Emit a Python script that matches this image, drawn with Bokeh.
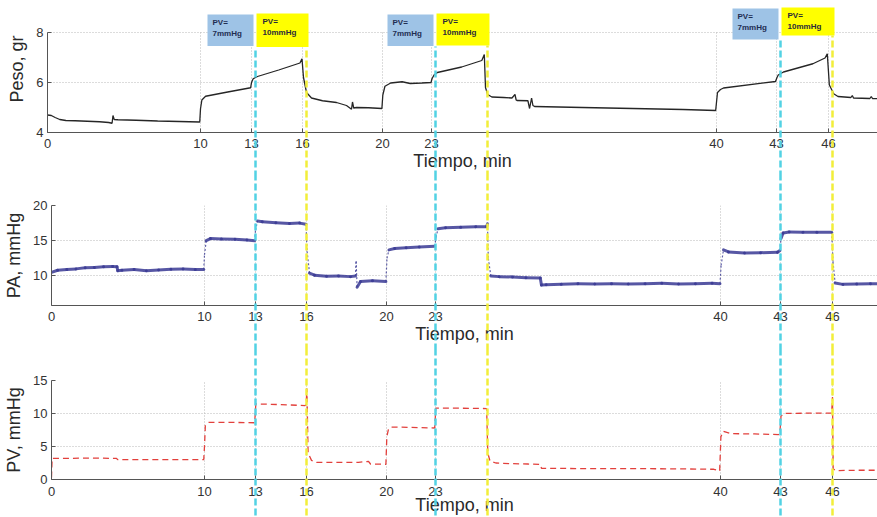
import numpy as np
from bokeh.plotting import figure
from bokeh.layouts import column
from bokeh.models import Range1d, FixedTicker, Grid
from bokeh.embed import file_html
from bokeh.resources import INLINE
from bokeh.core.properties import value

# ------------------------------------------------------------------ data
TICK_MIN = [0, 10, 13, 16, 20, 23, 40, 43, 46]
TICK_LABELS = ["0", "10", "13", "16", "20", "23", "40", "43", "46"]

PV7_START = [10, 20, 40]          # start of PV = 7 mmHg
PV10_START = [13, 23, 43]         # start of PV = 10 mmHg (cyan lines)
PV10_END = [16, 26.1, 46]         # end of PV = 10 mmHg (yellow lines)
BOX_TEXT_7 = "PV=\n7mmHg"
BOX_TEXT_10 = "PV=\n10mmHg"

PESO_T = [0, 0.25, 0.5, 0.8, 1.2, 1.8, 2.6, 3.4, 4.0, 4.22, 4.28, 4.36, 4.6, 5.8, 7.2, 8.6, 9.95,
          10.0, 10.08, 10.3, 11.6, 12.95,
          13.0, 13.1, 13.35, 14.6, 15.85, 15.97,
          16.05, 16.2, 16.45, 17.0, 17.7, 18.2, 18.45, 18.5, 18.56, 18.7, 19.3, 19.97,
          20.02, 20.15, 20.5, 21.2, 21.7, 22.4, 22.97,
          23.03, 23.15, 23.35, 24.8, 26.0, 26.15,
          26.22, 26.35, 26.6, 27.3, 27.8, 27.98, 28.05, 28.1, 28.75, 28.85, 28.97, 29.05, 29.15,
          32.0, 35.0, 38.0, 39.95,
          40.05, 40.2, 40.35, 42.95,
          43.03, 43.1, 43.4, 45.1, 45.8, 45.93,
          46.05, 46.3, 46.55, 47.3, 47.38, 47.45, 48.4, 48.48, 48.55, 49.0]
PESO_V = [4.7, 4.68, 4.6, 4.52, 4.48, 4.47, 4.45, 4.43, 4.4, 4.37, 4.68, 4.52, 4.51, 4.49, 4.46, 4.44, 4.42,
          4.95, 5.3, 5.45, 5.62, 5.79,
          6.0, 6.15, 6.24, 6.5, 6.78, 6.95,
          6.2, 5.6, 5.38, 5.27, 5.2, 5.08, 4.93, 5.22, 4.98, 5.0, 4.99, 4.96,
          5.5, 5.85, 5.98, 6.03, 5.96, 5.98, 6.0,
          6.15, 6.3, 6.4, 6.62, 6.88, 7.12,
          5.8, 5.52, 5.42, 5.4, 5.38, 5.52, 5.3, 5.28, 5.27, 4.96, 5.38, 5.08, 5.04,
          5.0, 4.96, 4.92, 4.88,
          5.6, 5.72, 5.78, 6.04,
          6.2, 6.3, 6.42, 6.75, 6.98, 7.15,
          5.9, 5.55, 5.44, 5.4, 5.48, 5.38, 5.36, 5.44, 5.36, 5.35]

PA_T = [0, 0.4, 1.0, 1.6, 2.2, 2.8, 3.4, 4.0, 4.28, 4.33, 4.6, 5.4, 6.2, 7.0, 7.8, 8.6, 9.4, 9.95,
        10.0, 10.1, 10.35, 11.0, 11.8, 12.5, 12.95,
        13.0, 13.12, 13.4, 14.2, 15.0, 15.6, 15.97,
        16.03, 16.15, 16.4, 17.0, 17.6, 18.2, 18.45, 18.48, 18.53, 18.7, 19.3, 19.97,
        20.03, 20.15, 20.5, 21.2, 22.0, 22.95,
        23.03, 23.15, 23.6, 24.5, 25.4, 26.05, 26.1,
        26.15, 26.3, 26.8, 27.6, 28.4, 29.25,
        29.32, 29.6, 30.5, 31.5, 32.5, 33.5, 34.5, 35.5, 36.5, 37.5, 38.5, 39.5, 39.97,
        40.03, 40.15, 40.4, 41.2, 42.0, 42.85, 42.97,
        43.03, 43.15, 43.5, 44.3, 45.1, 45.95,
        46.03, 46.15, 46.6, 47.4, 48.2, 49.0]
PA_V = [10.5, 10.8, 10.9, 11.0, 11.15, 11.2, 11.3, 11.35, 11.3, 10.75, 10.8, 10.9, 10.75, 10.85, 10.95, 11.0, 10.9, 10.9,
        13.0, 15.0, 15.3, 15.25, 15.2, 15.1, 15.0,
        16.5, 17.8, 17.7, 17.55, 17.45, 17.5, 17.35,
        13.5, 10.4, 10.1, 9.95, 10.0, 9.9, 10.0, 12.1, 8.4, 9.2, 9.3, 9.2,
        12.5, 13.7, 13.9, 14.0, 14.1, 14.2,
        15.5, 16.7, 16.85, 16.9, 17.0, 17.0, 17.4,
        12.5, 10.0, 9.9, 9.85, 9.75, 9.7,
        8.7, 8.75, 8.8, 8.9, 8.85, 8.9, 8.85, 8.9, 8.95, 8.85, 8.9, 8.95, 8.9,
        11.5, 13.7, 13.4, 13.25, 13.3, 13.35, 13.6,
        15.3, 16.1, 16.25, 16.2, 16.2, 16.2,
        12.0, 9.0, 8.8, 8.85, 8.9, 8.85]

PV_T = [0, 0.04, 1.0, 2.5, 4.25, 4.32, 6.0, 8.0, 9.95,
        10.0, 10.05, 10.25, 11.5, 12.95,
        13.02, 14.5, 15.9, 15.98, 16.02, 16.08, 16.25, 16.5, 17.5, 18.6, 19.1, 19.2, 19.97,
        20.02, 20.12, 20.3, 21.5, 22.95,
        23.02, 24.5, 26.05,
        26.12, 26.25, 26.6, 27.5, 28.5, 29.25, 29.32, 32.0, 35.0, 38.0, 39.6, 39.95,
        40.02, 40.15, 40.5, 41.7, 42.9, 42.97,
        43.03, 43.2, 44.5, 45.95, 46.0,
        46.04, 46.2, 47.5, 49.0]
PV_V = [0.3, 3.2, 3.2, 3.25, 3.2, 3.0, 3.0, 3.0, 3.0,
        5.0, 8.2, 8.65, 8.65, 8.6,
        11.45, 11.35, 11.2, 11.3, 13.8, 4.0, 2.9, 2.6, 2.6, 2.6, 2.75, 2.35, 2.3,
        6.5, 7.6, 7.95, 7.9, 7.8,
        10.8, 10.8, 10.75,
        4.0, 2.8, 2.5, 2.4, 2.35, 2.3, 1.7, 1.65, 1.65, 1.6, 1.55, 1.3,
        6.5, 7.3, 6.95, 6.9, 6.8, 7.1,
        9.6, 10.0, 10.05, 10.05, 12.5,
        1.6, 1.35, 1.4, 1.4]

PESO_YTICKS = [4, 6, 8]
PA_YTICKS = [10, 15, 20]
PV_YTICKS = [0, 5, 10, 15]

# ------------------------------------------------------------------ layout / style
FONT = "Liberation Sans"
# the original time axis is not uniform between its ticks: map minutes -> axis units
AXIS_POS = [0, 153, 204, 255, 335, 384, 669, 729, 781]
EXTRA_MIN, EXTRA_POS = 50, 850
TOP_SHIFT = 4          # the top panel of the original is offset a few px to the left
GRID_COLOR = "#b8b8b8"
CYAN = "#52d2e4"
YELLOW = "#f2ee3a"


def to_axis(t):
    return np.interp(np.asarray(t, dtype=float), TICK_MIN + [EXTRA_MIN], AXIS_POS + [EXTRA_POS])


def make_panel(height, frame_w, yr, left, top, bottom, ylabel, yticks, ybounds, xlabel_standoff,
               xtick_standoff):
    p = figure(width=877, height=height, x_range=Range1d(0, frame_w), y_range=Range1d(*yr),
               output_backend="svg", toolbar_location=None,
               min_border_left=left, min_border_right=0, min_border_top=top,
               min_border_bottom=bottom)
    p.frame_align = False
    p.outline_line_color = None
    p.xgrid.visible = False
    p.ygrid.ticker = FixedTicker(ticks=yticks)
    p.ygrid.grid_line_color = GRID_COLOR
    p.ygrid.grid_line_dash = "1 2"

    xa = p.xaxis[0]
    xa.ticker = FixedTicker(ticks=[int(v) for v in AXIS_POS])
    xa.major_label_overrides = {int(v): lab for v, lab in zip(AXIS_POS, TICK_LABELS)}
    xa.axis_label = "Tiempo, min"
    ya = p.yaxis[0]
    ya.ticker = FixedTicker(ticks=yticks)
    ya.axis_label = ylabel
    ya.bounds = ybounds
    for ax in (xa, ya):
        ax.axis_line_color = "#555555"
        ax.major_tick_line_color = "#555555"
        ax.major_tick_in = 4
        ax.major_tick_out = 0
        ax.minor_tick_line_color = None
        ax.major_label_standoff = 4
        ax.major_label_text_font = FONT
        ax.major_label_text_font_size = "13px"
        ax.major_label_text_color = "#333333"
        ax.axis_label_text_font = FONT
        ax.axis_label_text_font_size = "18px"
        ax.axis_label_text_font_style = "normal"
        ax.axis_label_text_color = "#2a2a2a"
    ya.axis_label_standoff = 6
    xa.axis_label_standoff = xlabel_standoff
    xa.major_label_standoff = xtick_standoff

    # vertical grid lines (only inside the y-axis extent)
    gx = [int(v) for v in AXIS_POS[1:]]
    p.segment(x0=gx, y0=[ybounds[0]] * len(gx), x1=gx, y1=[ybounds[1]] * len(gx),
              line_color=GRID_COLOR, line_dash="1 2", line_width=1)
    return p


def add_marks(p, shift, tops_cyan, tops_yellow, bottom):
    """Dashed marker lines at the PV changes; drawn as grid guides so they run through the axis area."""
    for xs, tops, col in ((to_axis(PV10_START) + shift, tops_cyan, CYAN),
                          (to_axis(PV10_END) + shift, tops_yellow, YELLOW)):
        for x, t in zip(xs, tops):
            p.add_layout(Grid(dimension=0, ticker=FixedTicker(ticks=[float(x)]),
                              cross_bounds=(bottom, float(t)), level="overlay",
                              grid_line_color=col, grid_line_width=2.5, grid_line_dash="7 3"))


# ---------------- top panel: Peso
p1 = make_panel(175, 830, (4, 9.08), 47, 5, 43, "Peso, gr", PESO_YTICKS, (4, 8), 0, 6)
p1.line(to_axis(PESO_T), PESO_V, line_color="#262626", line_width=1.3)

cyan_top = to_axis(PV10_START) + TOP_SHIFT
yellow_top = to_axis(PV10_END) + TOP_SHIFT
blue_box = dict(left=cyan_top - 48, right=cyan_top - 2,
                top=[8.72, 8.72, 8.96], bottom=[7.46, 7.46, 7.72])
yel_box = dict(left=cyan_top + 1, right=yellow_top + 2,
               top=[8.76, 8.76, 9.0], bottom=[7.42, 7.48, 7.88])
p1.quad(**blue_box, fill_color="#9ec3e6", line_color=None)
p1.quad(**yel_box, fill_color="#ffff00", line_color=None)
p1.text(x=blue_box["left"], y=blue_box["top"], text=[BOX_TEXT_7] * 3,
        text_font=value(FONT), text_font_size="8px", text_font_style="bold",
        text_color="#1f2d52", text_baseline="top", text_line_height=1.3, x_offset=5, y_offset=3)
p1.text(x=yel_box["left"], y=yel_box["top"], text=[BOX_TEXT_10] * 3,
        text_font=value(FONT), text_font_size="8px", text_font_style="bold",
        text_color="#2a2a3a", text_baseline="top", text_line_height=1.3, x_offset=6, y_offset=3)
add_marks(p1, TOP_SHIFT, [min(a, b) for a, b in zip(blue_box["bottom"], yel_box["bottom"])],
          yel_box["bottom"], 1.0)

# ---------------- middle panel: PA
p2 = make_panel(175, 826, (5.8, 20), 51, 30, 45, "PA, mmHg", PA_YTICKS, (5.8, 20), 0, 6)
pa_x = to_axis(PA_T)
pa_v = np.asarray(PA_V, dtype=float)
jump = np.abs(np.diff(pa_v)) > 1.0
flat = ~jump
p2.segment(x0=pa_x[:-1][flat], y0=pa_v[:-1][flat], x1=pa_x[1:][flat], y1=pa_v[1:][flat],
           line_color="#3a3a94", line_width=3, line_alpha=0.85, line_cap="round")
p2.segment(x0=pa_x[:-1][jump], y0=pa_v[:-1][jump], x1=pa_x[1:][jump], y1=pa_v[1:][jump],
           line_color="#3a3a94", line_width=1.2, line_alpha=0.8, line_dash="2 2")
add_marks(p2, 0, [26] * 3, [26] * 3, -2)

# ---------------- bottom panel: PV
p3 = make_panel(167, 826, (0, 15), 51, 30, 38, "PV, mmHg", PV_YTICKS, (0, 15), -4, 7)
p3.line(to_axis(PV_T), PV_V, line_color="#e2403c", line_width=1.3, line_dash="6 4")
add_marks(p3, 0, [21] * 3, [21] * 3, -7)

layout = column(p1, p2, p3, spacing=0)
open("out.html", "w").write(file_html(layout, INLINE))
